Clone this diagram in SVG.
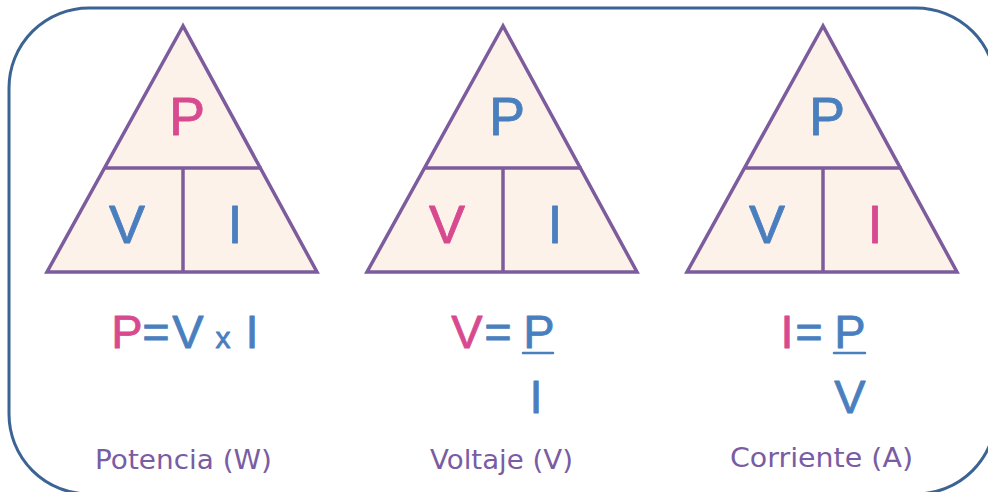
<svg xmlns="http://www.w3.org/2000/svg" width="988" height="492" viewBox="0 0 988 492">
<style>
.frame{fill:#ffffff;stroke:#3b6495;stroke-width:3}
.tri{fill:#fdf2ea;stroke:#7d5c9e;stroke-width:3.5;stroke-linejoin:miter}
.div{stroke:#7d5c9e;stroke-width:3.5;fill:none}
.big{font-family:"Liberation Sans","DejaVu Sans",sans-serif;font-size:54px;text-anchor:middle;stroke-width:0.8;stroke-linejoin:round}
.f{font-family:"Liberation Sans","DejaVu Sans",sans-serif;font-size:47px;text-anchor:middle;stroke-width:0.8;stroke-linejoin:round}
.pink{fill:#d84a8f;stroke:#d84a8f}
.blue{fill:#4a7fbf;stroke:#4a7fbf}
.bar{stroke:#4a7fbf;stroke-width:2.5;stroke-linecap:round}
.lbl{font-family:"DejaVu Sans","Liberation Sans",sans-serif;font-size:26px;fill:#7a5ca3}
</style>
<rect class="frame" x="9" y="8" width="987" height="486" rx="80" ry="80"/>

<g id="triangle-potencia">
<polygon class="tri" points="183,26 47,272 317,272"/>
<line class="div" x1="104.5" y1="168" x2="261.5" y2="168"/>
<line class="div" x1="183" y1="168" x2="183" y2="272"/>
<text class="big pink" x="187" y="135">P</text>
<text class="big blue" x="127" y="243">V</text>
<text class="big blue" x="235" y="243">I</text>
</g>
<g id="formula-potencia">
<text class="f pink" x="127" y="348">P</text>
<text class="f blue" x="156" y="348">=</text>
<text class="f blue" x="188" y="348">V</text>
<text class="f blue" x="223" y="348" style="font-size:30px">x</text>
<text class="f blue" x="252" y="348">I</text>
<text class="lbl" x="95" y="469" textLength="177" lengthAdjust="spacingAndGlyphs">Potencia (W)</text>
</g>

<g id="triangle-voltaje">
<polygon class="tri" points="503,26 367,272 637,272"/>
<line class="div" x1="424.5" y1="168" x2="581.5" y2="168"/>
<line class="div" x1="503" y1="168" x2="503" y2="272"/>
<text class="big blue" x="507" y="135">P</text>
<text class="big pink" x="447" y="243">V</text>
<text class="big blue" x="555" y="243">I</text>
</g>
<g id="formula-voltaje">
<text class="f pink" x="467" y="348">V</text>
<text class="f blue" x="498" y="348">=</text>
<text class="f blue" x="539" y="348">P</text>
<line class="bar" x1="523" y1="353" x2="553" y2="353"/>
<text class="f blue" x="536" y="413">I</text>
<text class="lbl" x="430" y="469" textLength="143" lengthAdjust="spacingAndGlyphs">Voltaje (V)</text>
</g>

<g id="triangle-corriente">
<polygon class="tri" points="823,26 687,272 957,272"/>
<line class="div" x1="744.5" y1="168" x2="901.5" y2="168"/>
<line class="div" x1="823" y1="168" x2="823" y2="272"/>
<text class="big blue" x="827" y="135">P</text>
<text class="big blue" x="767" y="243">V</text>
<text class="big pink" x="875" y="243">I</text>
</g>
<g id="formula-corriente">
<text class="f pink" x="787" y="348">I</text>
<text class="f blue" x="809" y="348">=</text>
<text class="f blue" x="850" y="348">P</text>
<line class="bar" x1="834" y1="353" x2="865" y2="353"/>
<text class="f blue" x="850" y="413">V</text>
<text class="lbl" x="730" y="467" textLength="183" lengthAdjust="spacingAndGlyphs">Corriente (A)</text>
</g>
</svg>
